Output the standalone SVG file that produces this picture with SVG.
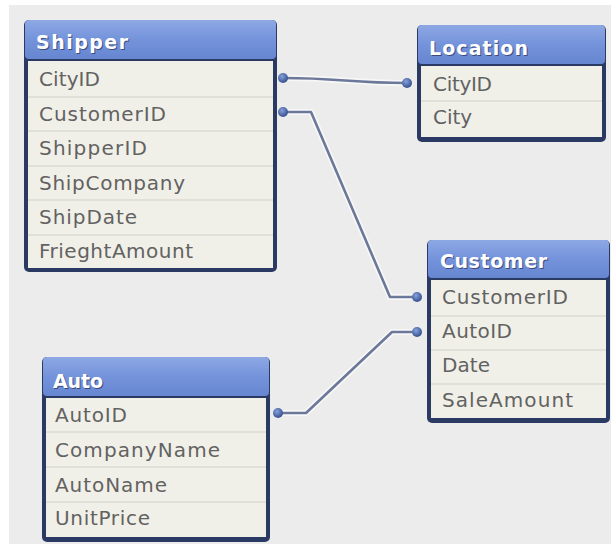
<svg xmlns="http://www.w3.org/2000/svg" width="611" height="544" viewBox="0 0 611 544">
<defs>
<linearGradient id="hg" x1="0" y1="0" x2="0" y2="1">
<stop offset="0" stop-color="#8ea8e4"/>
<stop offset="0.5" stop-color="#7493db"/>
<stop offset="1" stop-color="#6786d1"/>
</linearGradient>
<radialGradient id="dg" cx="0.4" cy="0.35" r="0.7">
<stop offset="0" stop-color="#86a0da"/>
<stop offset="1" stop-color="#2f4a8a"/>
</radialGradient>
</defs>
<style>
.frame{fill:#2b3a62}
.hdr{fill:url(#hg)}
.body{fill:#f1f0e8}
.sep{stroke:#cfcfc6;stroke-width:1.2}
.ht{font-family:"DejaVu Sans",sans-serif;font-weight:bold;font-size:19px;fill:#ffffff}
.hs{font-family:"DejaVu Sans",sans-serif;font-weight:bold;font-size:19px;fill:#2a3560;opacity:0.75}
.ft{font-family:"DejaVu Sans",sans-serif;font-size:20px;fill:#626262}
.con{fill:none;stroke:#6b7899;stroke-width:2.6;stroke-linejoin:round}
.halo{fill:none;stroke:#ffffff;stroke-width:6;stroke-linejoin:round;opacity:0.6}
.dot{fill:url(#dg)}
</style>
<rect x="0" y="0" width="611" height="544" fill="#ffffff"/>
<rect x="9" y="5" width="602" height="539" fill="#ececec"/>

<g id="connectors">
<path class="halo" d="M283,78 C340,78 350,83 407,83"/>
<path class="halo" d="M283,112 L311,112 L390,297 L417,297"/>
<path class="halo" d="M278,413 L306,413 L392,332 L417,332"/>
<path class="con" d="M283,78 C340,78 350,83 407,83"/>
<path class="con" d="M283,112 L311,112 L390,297 L417,297"/>
<path class="con" d="M278,413 L306,413 L392,332 L417,332"/>
<circle class="dot" cx="283" cy="78" r="5"/>
<circle class="dot" cx="407" cy="83" r="5"/>
<circle class="dot" cx="283" cy="112" r="5"/>
<circle class="dot" cx="417" cy="297" r="5"/>
<circle class="dot" cx="278" cy="413" r="5"/>
<circle class="dot" cx="417" cy="332" r="5"/>
</g>

<g id="shipper">
<rect class="frame" x="24" y="20" width="253" height="252" rx="5"/>
<rect class="hdr" x="25" y="20" width="251" height="39" rx="4"/>
<rect class="body" x="28" y="61" width="245" height="207"/>
<line class="sep" x1="28" y1="97" x2="273" y2="97"/>
<line class="sep" x1="28" y1="131" x2="273" y2="131"/>
<line class="sep" x1="28" y1="166" x2="273" y2="166"/>
<line class="sep" x1="28" y1="200" x2="273" y2="200"/>
<line class="sep" x1="28" y1="235" x2="273" y2="235"/>
<text class="hs" x="37" y="50" textLength="92">Shipper</text>
<text class="ht" x="36" y="49" textLength="92">Shipper</text>
<text class="ft" x="39" y="86" textLength="61">CityID</text>
<text class="ft" x="39" y="121" textLength="127">CustomerID</text>
<text class="ft" x="39" y="155" textLength="108">ShipperID</text>
<text class="ft" x="39" y="190" textLength="146">ShipCompany</text>
<text class="ft" x="39" y="224" textLength="98">ShipDate</text>
<text class="ft" x="39" y="258" textLength="154">FrieghtAmount</text>
</g>

<g id="location">
<rect class="frame" x="417" y="25" width="189" height="117" rx="5"/>
<rect class="hdr" x="418" y="25" width="187" height="39" rx="4"/>
<rect class="body" x="421" y="66" width="181" height="71"/>
<line class="sep" x1="421" y1="101" x2="602" y2="101"/>
<text class="hs" x="430" y="56" textLength="99">Location</text>
<text class="ht" x="429" y="55" textLength="99">Location</text>
<text class="ft" x="433" y="91" textLength="59">CityID</text>
<text class="ft" x="433" y="124" textLength="39">City</text>
</g>

<g id="customer">
<rect class="frame" x="427" y="240" width="183" height="183" rx="5"/>
<rect class="hdr" x="428" y="240" width="181" height="38" rx="4"/>
<rect class="body" x="431" y="280" width="175" height="138"/>
<line class="sep" x1="431" y1="316" x2="606" y2="316"/>
<line class="sep" x1="431" y1="350" x2="606" y2="350"/>
<line class="sep" x1="431" y1="384" x2="606" y2="384"/>
<text class="hs" x="441" y="269" textLength="107">Customer</text>
<text class="ht" x="440" y="268" textLength="107">Customer</text>
<text class="ft" x="442" y="304" textLength="126">CustomerID</text>
<text class="ft" x="442" y="338" textLength="70">AutoID</text>
<text class="ft" x="442" y="372" textLength="48">Date</text>
<text class="ft" x="442" y="407" textLength="131">SaleAmount</text>
</g>

<g id="auto">
<rect class="frame" x="42" y="357" width="228" height="185" rx="5"/>
<rect class="hdr" x="43" y="357" width="226" height="39" rx="4"/>
<rect class="body" x="46" y="398" width="220" height="139"/>
<line class="sep" x1="46" y1="432" x2="266" y2="432"/>
<line class="sep" x1="46" y1="467" x2="266" y2="467"/>
<line class="sep" x1="46" y1="502" x2="266" y2="502"/>
<text class="hs" x="54" y="389" textLength="50">Auto</text>
<text class="ht" x="53" y="388" textLength="50">Auto</text>
<text class="ft" x="55" y="422" textLength="72">AutoID</text>
<text class="ft" x="55" y="457" textLength="165">CompanyName</text>
<text class="ft" x="55" y="492" textLength="112">AutoName</text>
<text class="ft" x="55" y="525" textLength="95">UnitPrice</text>
</g>
</svg>
